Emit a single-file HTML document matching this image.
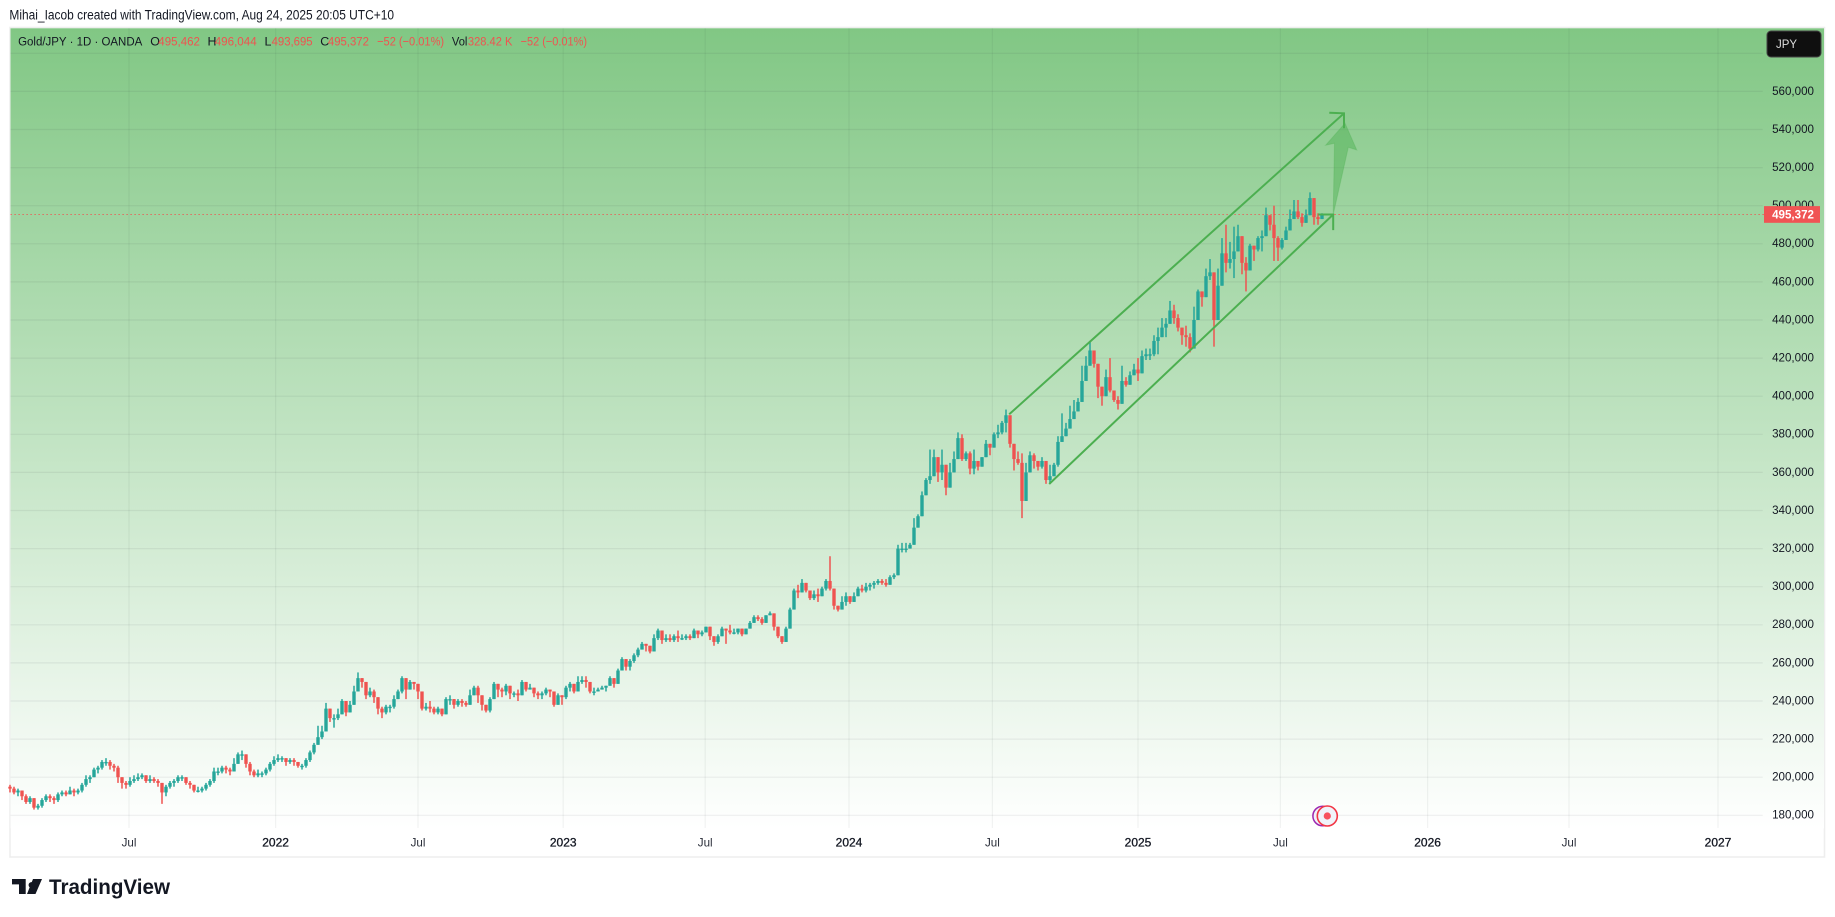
<!DOCTYPE html>
<html lang="en">
<head>
<meta charset="utf-8">
<title>Gold/JPY 1D chart</title>
<style>
html,body{margin:0;padding:0;background:#fff;width:1835px;height:917px;overflow:hidden}
svg{display:block;font-family:"Liberation Sans",sans-serif}
</style>
</head>
<body>
<svg id="chart" xmlns="http://www.w3.org/2000/svg" width="1835" height="917" viewBox="0 0 1835 917">
  <defs>
    <linearGradient id="paneGradient" gradientUnits="userSpaceOnUse" x1="0" y1="28" x2="0" y2="828">
      <stop offset="0" stop-color="#81c784"/>
      <stop offset="1" stop-color="#ffffff"/>
    </linearGradient>
  </defs>
  <text x="9.4" y="19.5" font-size="13.5" fill="#131722" textLength="384.6" lengthAdjust="spacingAndGlyphs">Mihai_Iacob created with TradingView.com, Aug 24, 2025 20:05 UTC+10</text>
  <rect x="10" y="27.5" width="1814.5" height="829.5" fill="#fff" stroke="#eeeeee" stroke-width="1.6"/>
  <rect x="10.5" y="28.3" width="1813.5" height="800" fill="url(#paneGradient)"/>
  <g id="grid"></g>
  <line id="lastPriceLine" stroke="#ef5350" stroke-width="1" stroke-dasharray="1.2 2.8"></line>
  <g id="candles"></g>
  <g id="drawings" fill="none" stroke="#4caf50" stroke-width="2"></g>
  <g id="priceAxis" font-size="11.6" fill="#131722" text-anchor="end"></g>
  <g id="timeAxis" font-size="11.6" fill="#131722" text-anchor="middle"></g>

  <g font-size="12.4" fill="#131722">
    <text x="18.1" y="45.6" textLength="124.2" lengthAdjust="spacingAndGlyphs">Gold/JPY · 1D · OANDA</text>
    <text x="150.3" y="45.6">O</text>
    <text x="158.3" y="45.6" fill="#ef5350" textLength="41.6" lengthAdjust="spacingAndGlyphs">495,462</text>
    <text x="207.5" y="45.6">H</text>
    <text x="214.7" y="45.6" fill="#ef5350" textLength="42" lengthAdjust="spacingAndGlyphs">496,044</text>
    <text x="264.5" y="45.6">L</text>
    <text x="271.6" y="45.6" fill="#ef5350" textLength="41" lengthAdjust="spacingAndGlyphs">493,695</text>
    <text x="320.2" y="45.6">C</text>
    <text x="327.9" y="45.6" fill="#ef5350" textLength="41" lengthAdjust="spacingAndGlyphs">495,372</text>
    <text x="377.1" y="45.6" fill="#ef5350" textLength="67" lengthAdjust="spacingAndGlyphs">−52 (−0.01%)</text>
    <text x="451.9" y="45.6" textLength="15.5" lengthAdjust="spacingAndGlyphs">Vol</text>
    <text x="467.9" y="45.6" fill="#ef5350" textLength="44.5" lengthAdjust="spacingAndGlyphs">328.42 K</text>
    <text x="520.6" y="45.6" fill="#ef5350" textLength="66.4" lengthAdjust="spacingAndGlyphs">−52 (−0.01%)</text>
  </g>

  <g>
    <rect x="1767" y="31" width="54" height="26" rx="4" fill="#0f0f0f" stroke="#444" stroke-width="1"/>
    <text x="1776" y="48" font-size="11.5" fill="#dddddd">JPY</text>
  </g>

  <g id="priceTag"></g>

  <g>
    <circle cx="1322.7" cy="816" r="9.8" fill="#f0f3fa" stroke="#9c27b0" stroke-width="1.5"/>
    <circle cx="1327.3" cy="816" r="10" fill="#f0f3fa" stroke="#f23645" stroke-width="1.6"/>
    <circle cx="1327.3" cy="816" r="3.6" fill="#f7525f"/>
  </g>

  <g>
    <path fill="#131722" d="M12 879H25.7V894H19V884.4H12ZM31.5 882.1a2.9 2.9 0 1 1-.01 0ZM33 879H42L35.5 894H27Z"/>
    <text x="49" y="894" font-size="21" font-weight="700" fill="#131722" textLength="121" lengthAdjust="spacingAndGlyphs">TradingView</text>
  </g>
</svg>

<script>
// Prices in thousands of JPY, sampled every four trading days across the visible range.
const closes = [
194,192,193,190,187,189,184,185,188,190,
189,188,191,192,191,193,192,193,196,199,
200,204,205,208,208,206,205,200,197,196,
198,199,200,201,198,199,198,197,192,195,
197,198,200,200,197,196,193,193,194,196,
198,203,203,205,204,203,207,212,212,207,
203,201,202,202,204,207,209,210,210,208,
209,208,206,206,209,213,217,221,224,236,
231,231,233,240,234,238,245,252,250,243,
245,242,236,234,237,237,241,245,252,246,
250,249,245,236,237,236,234,236,233,241,
241,238,240,239,238,243,247,243,238,235,
241,249,246,245,248,244,244,243,250,246,
247,244,243,244,246,245,238,243,242,247,
249,245,250,251,250,245,245,246,247,248,
252,249,256,262,258,261,264,267,270,269,
266,273,277,272,273,272,274,273,273,274,
273,277,275,276,279,274,271,274,278,277,
276,276,278,275,278,281,284,283,281,285,
286,279,274,271,278,288,298,297,302,298,
294,296,295,299,303,299,290,288,292,295,
292,295,299,298,300,301,302,303,302,301,
305,306,320,320,320,322,331,337,348,356,
358,368,360,364,352,360,367,378,367,370,
362,366,363,368,375,373,380,381,386,390,
375,367,365,345,360,369,366,363,366,356,
358,364,376,379,383,388,392,397,408,416,
424,417,405,400,410,403,398,396,408,406,
411,414,412,421,422,422,429,431,436,438,
445,441,436,432,431,425,440,455,452,463,
465,440,458,475,470,472,476,484,470,466,
479,477,483,484,495,490,483,478,482,487,
493,497,494,491,495,504,494,493,495.372];

const highs = [
196,195,194,193,191,190,189,186,189,191,
191,190,192,193,193,195,194,194,197,201,
201,205,206,209,210,209,207,206,200,198,
200,201,202,202,201,201,200,199,197,196,
198,199,201,201,200,198,196,195,195,197,
199,205,205,206,206,205,210,213,214,212,
208,204,204,203,205,208,211,212,211,210,
210,210,208,207,210,214,218,227,227,239,
234,233,236,241,239,240,248,255,252,250,
247,246,241,237,238,238,243,246,253,250,
251,250,249,241,239,240,237,237,236,242,
243,241,241,241,240,246,248,248,242,238,
242,250,248,247,249,247,245,246,251,250,
249,246,245,245,247,246,241,244,242,248,
250,249,253,253,253,248,247,247,248,248,
253,252,257,263,261,262,265,268,271,270,
268,275,278,275,275,275,275,277,275,275,
275,278,275,277,279,279,273,275,279,278,
280,278,278,278,278,282,285,285,284,285,
287,286,277,274,279,289,299,301,304,300,
297,298,299,300,304,316,294,290,295,297,
294,297,300,301,302,302,303,304,304,304,
306,307,322,323,323,323,336,338,350,357,
372,372,362,372,357,365,371,381,380,371,
371,372,364,368,377,375,381,385,387,393,
380,370,371,370,365,371,370,364,368,363,
364,365,379,391,386,395,398,399,416,421,
429,423,416,405,414,420,401,400,416,410,
413,417,420,424,425,425,432,436,441,441,
450,448,443,436,437,433,447,456,455,467,
472,461,467,483,490,481,489,490,483,473,
480,479,484,487,499,493,500,484,483,489,
498,503,503,496,498,507,502,496,496.044];

const lows = [
192,191,190,188,186,186,183,183,184,187,
187,186,187,190,190,191,190,191,192,195,
197,200,202,204,206,204,203,197,194,194,
195,197,198,199,197,197,197,195,186,190,
194,195,197,198,196,194,192,192,192,193,
195,197,201,202,202,201,203,207,209,205,
201,200,200,200,201,203,206,208,208,206,
207,206,205,204,205,208,212,219,220,229,
229,226,230,233,232,235,240,248,247,241,
242,239,233,231,233,234,236,241,244,241,
246,246,241,235,235,234,233,233,232,236,
238,236,237,237,237,239,244,239,235,234,
234,242,242,242,243,241,242,240,244,245,
246,242,241,241,243,242,237,238,238,241,
245,244,247,249,247,244,243,245,246,245,
248,247,250,257,256,256,260,263,267,266,
265,266,272,270,271,271,271,271,272,272,
272,273,273,274,277,272,269,270,275,270,
275,275,275,274,276,278,282,282,280,282,
285,277,273,270,273,280,289,294,297,297,
293,293,292,297,298,298,288,287,290,290,
291,292,297,297,297,298,299,301,301,300,
303,304,307,318,318,320,327,331,342,350,
354,364,355,356,348,356,365,375,366,366,
359,359,361,364,369,369,375,378,380,381,
373,361,364,336,356,364,362,361,362,354,
354,362,363,376,380,387,390,394,403,414,
417,415,399,395,400,402,397,393,403,405,
409,411,408,416,419,419,421,422,431,431,
438,438,434,427,426,423,427,449,447,454,
461,426,452,461,465,467,462,480,464,455,
471,471,476,476,486,487,471,471,477,483,
488,493,493,489,491,495,490,490,493.695];

const firstOpen = 195;
const lastPrice = 495.372;
const lastPriceLabel = "495,372";

const gridPrices = [180,200,220,240,260,280,300,320,340,360,380,400,420,440,460,480,500,520,540,560,580];
const priceTickValues = [180,200,220,240,260,280,300,320,340,360,380,400,420,440,460,480,500,520,540,560];
const priceTickLabels = ["180,000","200,000","220,000","240,000","260,000","280,000","300,000","320,000","340,000","360,000","380,000","400,000","420,000","440,000","460,000","480,000","500,000","520,000","540,000","560,000"];

const timeTickLabels = ["Jul","2022","Jul","2023","Jul","2024","Jul","2025","Jul","2026","Jul","2027"];
const timeTickBars = [29.75,66.4,102,138.3,173.8,209.75,245.6,282,317.6,354.4,389.75,427];

const channelBars = [249.8,333.5];
const upperChannelPrices = [390.5,548.5];
const lowerChannelBars = [259.8,330.8];
const lowerChannelPrices = [353.9,495.4];
const forecastTipBar = [333.75];
const forecastTipPrice = [543.3];

// Axis functions
function xOfBar(i){ return 10 + i * 4; }
function yOfPrice(p){ return 815.3 - (p - 180) * 1.905; }

const NS = "http://www.w3.org/2000/svg";
function svgEl(tag, attrs, parent){
  const el = document.createElementNS(NS, tag);
  for (const k in attrs) el.setAttribute(k, attrs[k]);
  parent.appendChild(el);
  return el;
}

// Grid
const gridGroup = document.getElementById("grid");
gridPrices.forEach(function(p){
  const l = svgEl("line", {x1:10.5, x2:1762.7, y1:yOfPrice(p), y2:yOfPrice(p), stroke:"rgba(42,46,57,0.07)", "stroke-width":1.2}, gridGroup);
  
  
});
timeTickBars.forEach(function(b){
  const l = svgEl("line", {x1:xOfBar(b), x2:xOfBar(b), y1:28.3, y2:828, stroke:"rgba(42,46,57,0.06)", "stroke-width":1.2}, gridGroup);
  
  
});

// Last price line
const lastLine = document.getElementById("lastPriceLine");
lastLine.setAttribute("x1", 10.5);
lastLine.setAttribute("x2", 1764);
lastLine.setAttribute("y1", yOfPrice(lastPrice));
lastLine.setAttribute("y2", yOfPrice(lastPrice));

// Candles
const candleGroup = document.getElementById("candles");
closes.forEach(function(c, i){
  const o = i === 0 ? firstOpen : closes[i - 1];
  const colour = c >= o ? "#26a69a" : "#ef5350";
  const x = xOfBar(i);
  const hi = Math.max(highs[i], o, c);
  const lo = Math.min(lows[i], o, c);
  const top = yOfPrice(Math.max(o, c));
  const bot = yOfPrice(Math.min(o, c));
  const g = svgEl("g", {}, candleGroup);
  
  
  const wick = svgEl("line", {x1:x, x2:x, y1:yOfPrice(hi), y2:yOfPrice(lo), stroke:colour, "stroke-width":1.5}, g);
  
  
  const body = svgEl("rect", {x:x - 1.7, y:top, width:3.4, height:Math.max(bot - top, 1.4), fill:colour}, g);
  
  
});

// Channel drawing
const drawGroup = document.getElementById("drawings");
const ux1 = xOfBar(channelBars[0]), uy1 = yOfPrice(upperChannelPrices[0]);
const ux2 = xOfBar(channelBars[1]), uy2 = yOfPrice(upperChannelPrices[1]);
const lx1 = xOfBar(lowerChannelBars[0]), ly1 = yOfPrice(lowerChannelPrices[0]);
const lx2 = xOfBar(lowerChannelBars[1]), ly2 = yOfPrice(lowerChannelPrices[1]);

const arrow = svgEl("polygon", {
  points: [
    [lx2, ly2],
    [lx2 + 1.3, yOfPrice(forecastTipPrice[0]) + 20],
    [xOfBar(forecastTipBar[0]) - 19.3, yOfPrice(forecastTipPrice[0]) + 22],
    [xOfBar(forecastTipBar[0]), yOfPrice(forecastTipPrice[0])],
    [xOfBar(forecastTipBar[0]) + 11.7, yOfPrice(forecastTipPrice[0]) + 26.7],
    [xOfBar(forecastTipBar[0]) + 3.3, yOfPrice(forecastTipPrice[0]) + 24]
  ].map(function(pt){ return pt.join(","); }).join(" "),
  fill:"rgba(76,175,80,0.45)", stroke:"rgba(76,175,80,0.3)", "stroke-width":1
}, drawGroup);



const upperLine = svgEl("path", {d:"M"+ux1+" "+uy1+"L"+ux2+" "+uy2+"M"+(ux2-14.7)+" "+(uy2-0.6)+"L"+ux2+" "+uy2+"L"+ux2+" "+(uy2+15)}, drawGroup);



const lowerLine = svgEl("path", {d:"M"+lx1+" "+ly1+"L"+lx2+" "+ly2+"M"+(lx2-15)+" "+ly2+"L"+lx2+" "+ly2+"L"+lx2+" "+(ly2+15.7)}, drawGroup);



// Price axis
const priceGroup = document.getElementById("priceAxis");
priceTickValues.forEach(function(v, i){
  const t = svgEl("text", {x:1814, y:yOfPrice(v) + 3.4}, priceGroup);
  t.textContent = priceTickLabels[i];
  
  
});

// Time axis
const timeGroup = document.getElementById("timeAxis");
timeTickLabels.forEach(function(lbl, i){
  const isYear = lbl.length === 4;
  const t = svgEl("text", {x:xOfBar(timeTickBars[i]), y:846.5, "font-size":isYear ? 12 : 11.6, stroke:isYear ? "#131722" : "none", "stroke-width":isYear ? 0.3 : 0, fill:isYear ? "#131722" : "#2a2e39"}, timeGroup);
  t.textContent = lbl;
  
  
});

// Last price tag
const tagGroup = document.getElementById("priceTag");
const tagRect = svgEl("rect", {x:1764, y:yOfPrice(lastPrice) - 8.4, width:56, height:16.7, fill:"#f05454"}, tagGroup);


const tagText = svgEl("text", {x:1814, y:yOfPrice(lastPrice) + 4, "font-size":11.6, "font-weight":700, fill:"#ffffff", "text-anchor":"end"}, tagGroup);
tagText.textContent = lastPriceLabel;


</script>
</body>
</html>
